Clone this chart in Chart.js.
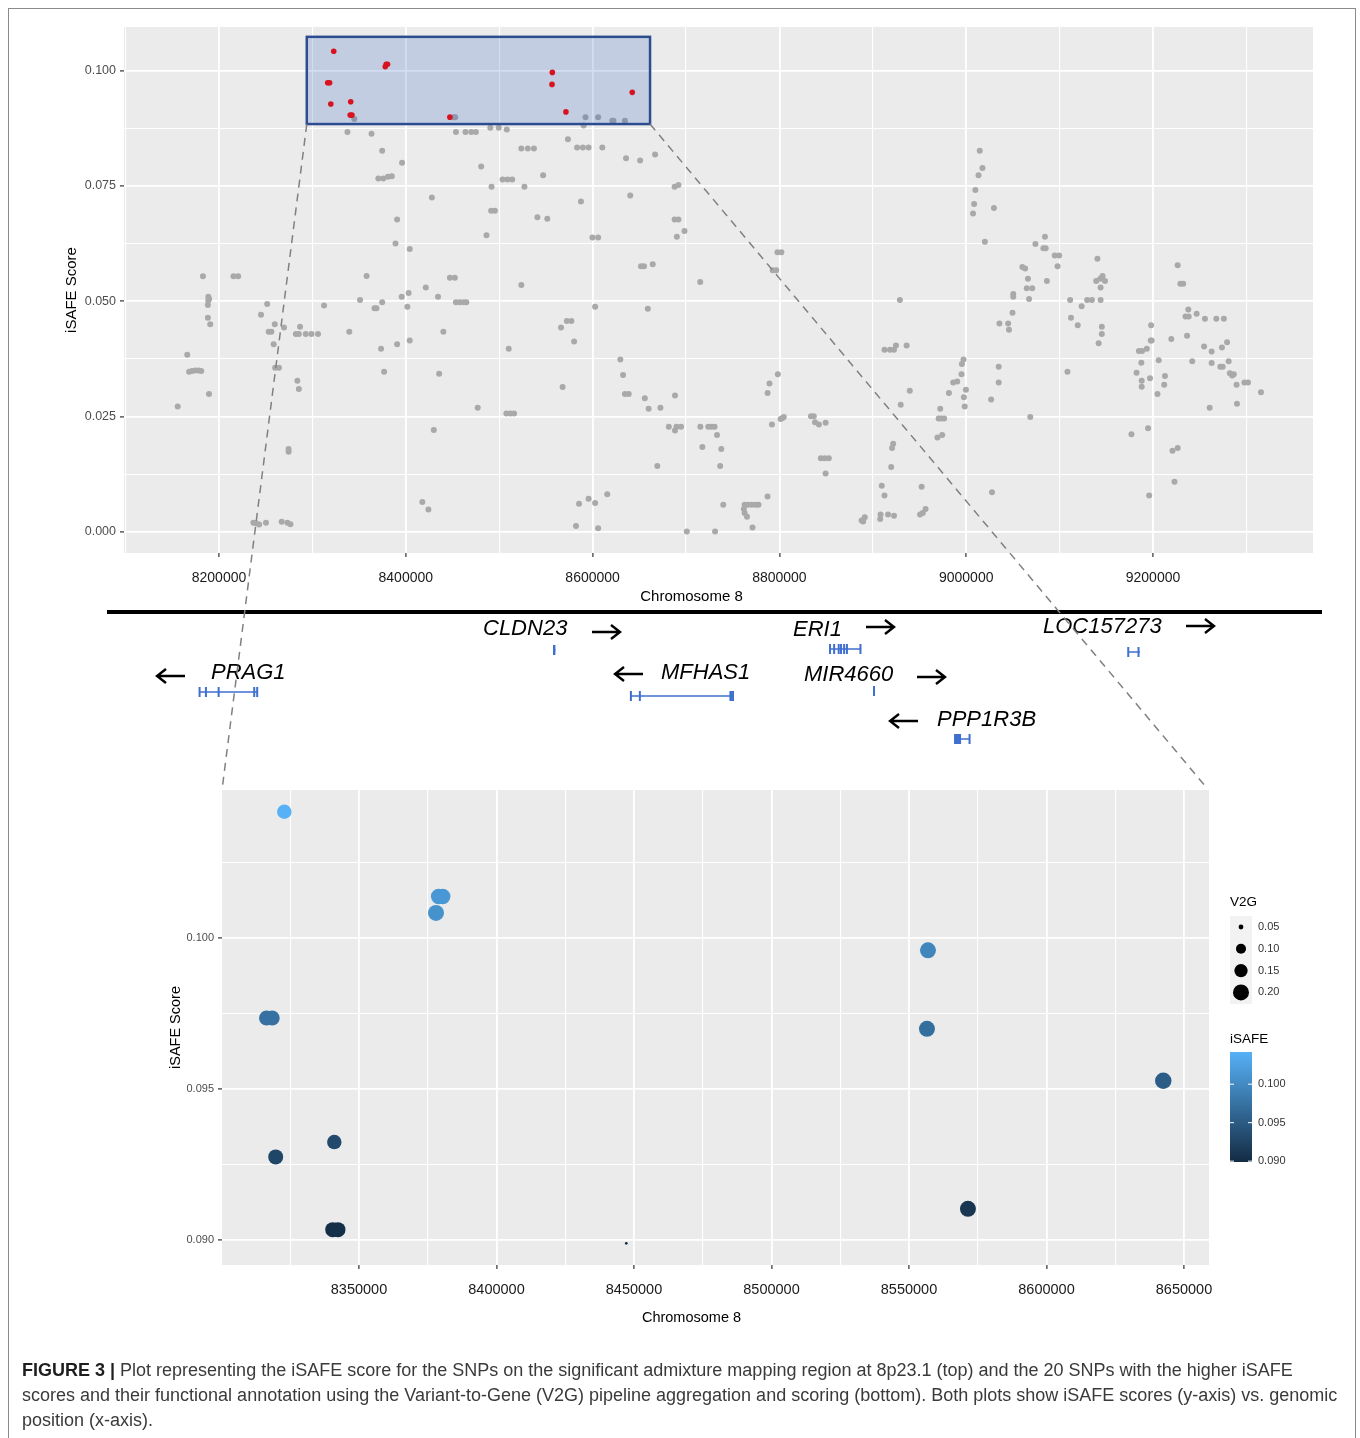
<!DOCTYPE html>
<html>
<head>
<meta charset="utf-8">
<title>iSAFE 8p23.1</title>
<script src="https://cdn.jsdelivr.net/npm/chart.js@4.4.0/dist/chart.umd.min.js"></script>
<style>
  html, body { margin: 0; padding: 0; background: #fff; }
  #page { position: relative; width: 1360px; height: 1438px; overflow: hidden; font-family: 'Liberation Sans', Arial, sans-serif; }
  #frame { position: absolute; left: 8px; top: 8px; width: 1348px; height: 1450px; border: 1px solid #8a8a8a; box-sizing: border-box; }
  #topChart { position: absolute; left: 0; top: 0; }
  #bottomChart { position: absolute; left: 0; top: 760px; }
  #overlay { position: absolute; left: 0; top: 0; pointer-events: none; }
  #caption { position: absolute; left: 22px; top: 1358px; font-size: 18px; line-height: 25px; color: #3a3a3a; white-space: nowrap; }
  #caption b { color: #1e1e1e; }
</style>
</head>
<body>
<div id="page">
  <div id="frame"></div>
  <canvas id="topChart" width="1360" height="760"></canvas>
  <canvas id="bottomChart" width="1360" height="580"></canvas>
  <canvas id="overlay" width="1360" height="1438"></canvas>
  <div id="caption">
    <div><b>FIGURE 3 |</b> Plot representing the iSAFE score for the SNPs on the significant admixture mapping region at 8p23.1 (top) and the 20 SNPs with the higher iSAFE</div>
    <div>scores and their functional annotation using the Variant-to-Gene (V2G) pipeline aggregation and scoring (bottom). Both plots show iSAFE scores (y-axis) vs. genomic</div>
    <div>position (x-axis).</div>
  </div>
</div>
<script>
// all SNPs of the region (grey, top panel)
const snpPos = [
  8344860, 8451250, 8452900, 8592400, 8605900, 8621100, 8622300, 8634600, 8590400, 8337500,
  8363300, 8453700, 8463900, 8470100, 8475000, 8490500, 8499500, 8508100, 8573600, 8523700,
  8530600, 8537200, 8583400, 8589600, 8595700, 8610400, 8374700, 8635800, 8650900, 8666900,
  8396000, 8480700, 8547000, 8370600, 8375900, 8380900, 8385000, 8503600, 8508900, 8513900,
  8491800, 8527000, 8687800, 8691900, 8427900, 8640300, 8587500, 8491400, 8495400, 8540900,
  8551500, 8390700, 8687800, 8691900, 8698400, 8486400, 8599800, 8605900, 8690200, 8389000,
  8404200, 8651800, 8655000, 8664400, 8715200, 8182800, 8215500, 8220500, 8358000, 8447200,
  8452500, 8421400, 8523700, 8188500, 8189400, 8351000, 8395600, 8403000, 8434500,
  8188500, 8188100, 8188100, 8190600, 8251600, 8245000, 8259700, 8253200, 8256100, 8269600,
  8286800, 8282300, 8285500, 8292900, 8299000, 8306000, 8258500, 8260100, 8264200, 8283900,
  8285500, 8166000, 8168000, 8171000, 8174500, 8178000, 8181000, 8189300, 8155800, 8312500,
  8366500, 8368600, 8374700, 8401700, 8339500, 8373500, 8390700, 8404200, 8376800, 8440200,
  8435700, 8453700, 8457800, 8461900, 8464800, 8274500, 8274500, 8236800, 8239700, 8243000,
  8250300, 8267100, 8273200, 8276500, 8510200, 8566200, 8572400, 8577300, 8580200, 8567900,
  8477000, 8507700, 8511800, 8515900, 8430000, 8417700, 8424200, 8582200, 8585500, 8595700,
  8602700, 8615700, 8605900, 8602700, 8659100, 8629700, 8632600, 8634600, 8638700, 8655900,
  8660000, 8672600, 8688200, 8681600, 8688200, 8689800, 8694700, 8669300, 8700900,
  8797900, 8802100, 8792800, 8796600, 9014500, 9017400, 9013200, 9009800, 9008500, 9007300,
  9029700, 9020000, 8929000, 9074100, 9084300, 9082600, 9085100, 9094800, 9099500, 9097800,
  9060100, 9063100, 9066100, 9064800, 9070700, 9067300, 9086400, 9050400, 9050400, 9140500,
  9139200, 9143500, 9146000, 9148600, 9143900, 9143900, 9111300, 9129500, 9134600, 9226400,
  9229300, 9232300,
  8715400, 8723900, 8727300, 8730600, 8717500, 8733200, 8737800, 8736600, 8731100, 8739900,
  8762800, 8766200, 8770400, 8774600, 8777600, 8761900, 8762800, 8765300, 8771200, 8787300,
  8789400, 8787300, 8798300, 8792000, 8801300, 8803400, 8804700, 8833800, 8836800, 8838100,
  8842300, 8849500, 8844400, 8848600, 8852900, 8849500, 8888000, 8891400, 8889700, 8907900,
  8908300, 8916300, 8922700, 8909600, 8912500, 8919700, 8920600, 8921800, 8912500, 8918400,
  8922700, 8924800, 8936200, 8939600, 8929900, 8952300, 8950600, 8953500, 8956500, 8969200,
  8974300, 8970500, 8973400, 8976400, 8972200, 8981500, 8986100, 8990400, 8995000, 8997500,
  8998400, 8999700, 8995400, 8997100, 9027600, 9026700, 9034800, 9034800, 9035600, 9044900,
  9045800, 9049600, 9068600, 9108400, 9112200, 9119400, 9123600, 9145200, 9145200, 9141800,
  9176900, 9194700, 9195900, 9220900, 9226400, 9223000, 9182400, 9184900, 9188300, 9187500,
  9193400, 9187900, 9187900, 9196800, 9197600, 9198500, 9198000, 9206100, 9204800, 9212800,
  9212000, 9219600, 9236500, 9234800, 9238200, 9237800, 9246700, 9255600, 9267800, 9275900,
  9242000, 9254700, 9262800, 9262800, 9272100, 9274600, 9273800, 9279300, 9281000, 9282300,
  9284800, 9286500, 9260700, 9289500, 9289900, 9297900, 9301700, 9315600
];
const snpScore = [
  0.0895, 0.0899, 0.0899, 0.0899, 0.0899, 0.0891, 0.0891, 0.0891, 0.0881, 0.0867,
  0.0863, 0.0867, 0.0867, 0.0867, 0.0867, 0.0876, 0.0876, 0.0872, 0.0851, 0.0831,
  0.0831, 0.0831, 0.0833, 0.0833, 0.0833, 0.0833, 0.0826, 0.0810, 0.0805, 0.0818,
  0.0800, 0.0792, 0.0773, 0.0766, 0.0766, 0.0770, 0.0771, 0.0764, 0.0764, 0.0764,
  0.0748, 0.0748, 0.0748, 0.0752, 0.0725, 0.0729, 0.0716, 0.0696, 0.0696, 0.0682,
  0.0679, 0.0677, 0.0677, 0.0677, 0.0652, 0.0643, 0.0638, 0.0638, 0.0640, 0.0625,
  0.0613, 0.0576, 0.0576, 0.0580, 0.0542, 0.0554, 0.0554, 0.0554, 0.0555, 0.0551,
  0.0551, 0.0530, 0.0535, 0.0510, 0.0505, 0.0503, 0.0510, 0.0518, 0.0510,
  0.0501, 0.0492, 0.0464, 0.0450, 0.0494, 0.0471, 0.0450, 0.0434, 0.0434, 0.0443,
  0.0445, 0.0429, 0.0429, 0.0429, 0.0429, 0.0429, 0.0407, 0.0356, 0.0356, 0.0328,
  0.0310, 0.0384, 0.0347, 0.0349, 0.0350, 0.0350, 0.0349, 0.0299, 0.0272, 0.0491,
  0.0485, 0.0485, 0.0498, 0.0488, 0.0434, 0.0397, 0.0407, 0.0415, 0.0347, 0.0434,
  0.0343, 0.0498, 0.0498, 0.0498, 0.0498, 0.0180, 0.0174, 0.0020, 0.0019, 0.0016,
  0.0020, 0.0022, 0.0020, 0.0017, 0.0397, 0.0443, 0.0457, 0.0457, 0.0413, 0.0314,
  0.0269, 0.0257, 0.0257, 0.0257, 0.0221, 0.0065, 0.0049, 0.0013, 0.0061, 0.0072,
  0.0063, 0.0082, 0.0008, 0.0488, 0.0484, 0.0374, 0.0340, 0.0299, 0.0299, 0.0290,
  0.0267, 0.0269, 0.0296, 0.0228, 0.0220, 0.0228, 0.0228, 0.0143, 0.0001,
  0.0606, 0.0606, 0.0567, 0.0567, 0.0826, 0.0789, 0.0773, 0.0741, 0.0711, 0.0690,
  0.0702, 0.0629, 0.0503, 0.0624, 0.0640, 0.0615, 0.0615, 0.0599, 0.0599, 0.0576,
  0.0574, 0.0571, 0.0549, 0.0528, 0.0528, 0.0505, 0.0544, 0.0516, 0.0510, 0.0592,
  0.0544, 0.0549, 0.0555, 0.0544, 0.0530, 0.0503, 0.0503, 0.0503, 0.0503, 0.0578,
  0.0538, 0.0538,
  0.0228, 0.0228, 0.0228, 0.0228, 0.0184, 0.0210, 0.0180, 0.0143, 0.0001, 0.0059,
  0.0059, 0.0059, 0.0059, 0.0059, 0.0059, 0.0050, 0.0041, 0.0033, 0.0010, 0.0077,
  0.0322, 0.0301, 0.0342, 0.0233, 0.0245, 0.0247, 0.0249, 0.0251, 0.0251, 0.0238,
  0.0233, 0.0237, 0.0160, 0.0160, 0.0160, 0.0127, 0.0025, 0.0032, 0.0023, 0.0028,
  0.0038, 0.0038, 0.0035, 0.0100, 0.0079, 0.0141, 0.0182, 0.0191, 0.0395, 0.0395,
  0.0395, 0.0404, 0.0404, 0.0306, 0.0276, 0.0098, 0.0038, 0.0041, 0.0050, 0.0205,
  0.0210, 0.0246, 0.0246, 0.0246, 0.0267, 0.0301, 0.0324, 0.0326, 0.0342, 0.0292,
  0.0272, 0.0308, 0.0364, 0.0374, 0.0086, 0.0287, 0.0358, 0.0324, 0.0452, 0.0452,
  0.0438, 0.0475, 0.0249, 0.0347, 0.0464, 0.0448, 0.0489, 0.0445, 0.0429, 0.0409,
  0.0212, 0.0225, 0.0079, 0.0176, 0.0182, 0.0109, 0.0345, 0.0392, 0.0392, 0.0367,
  0.0397, 0.0328, 0.0315, 0.0333, 0.0415, 0.0415, 0.0448, 0.0372, 0.0299, 0.0338,
  0.0319, 0.0418, 0.0425, 0.0467, 0.0467, 0.0482, 0.0473, 0.0462, 0.0462, 0.0462,
  0.0370, 0.0402, 0.0391, 0.0366, 0.0358, 0.0358, 0.0400, 0.0411, 0.0370, 0.0344,
  0.0339, 0.0342, 0.0269, 0.0319, 0.0278, 0.0324, 0.0324, 0.0303
];

// SNPs with the highest iSAFE (red on top, zoomed below)
const topSnpPos   = [8322840, 8378980, 8380430, 8378000, 8316370, 8318440, 8341020, 8319710, 8340440, 8342360, 8447200, 8556900, 8556530, 8642460, 8571430];
const topSnpScore = [0.10418, 0.10137, 0.10137, 0.10083, 0.09735, 0.09735, 0.09324, 0.09275, 0.09034, 0.09034, 0.08989, 0.09959, 0.09699, 0.09527, 0.09103];
const topSnpV2G   = [0.17, 0.19, 0.19, 0.20, 0.18, 0.18, 0.17, 0.18, 0.18, 0.18, 0.04, 0.20, 0.20, 0.21, 0.20];

// zoomed window drawn as the blue box
const zoomPos = [8294000, 8661500];
const zoomScore = [0.0884, 0.1073];

// ticks
const topXMajor = [8200000, 8400000, 8600000, 8800000, 9000000, 9200000];
const topXMinor = [8100000, 8300000, 8500000, 8700000, 8900000, 9100000, 9300000];
const topYMajor = [0, 0.025, 0.05, 0.075, 0.1];
const topYMinor = [0.0125, 0.0375, 0.0625, 0.0875];
const botXMajor = [8350000, 8400000, 8450000, 8500000, 8550000, 8600000, 8650000];
const botXMinor = [8325000, 8375000, 8425000, 8475000, 8525000, 8575000, 8625000];
const botYMajor = [0.090, 0.095, 0.100];
const botYMinor = [0.0925, 0.0975, 0.1025];

// legend keys
const v2gKeys = [0.05, 0.10, 0.15, 0.20];
const isafeKeys = [0.090, 0.095, 0.100];

// genes (hg19, chr8)
const geneNames  = ['PRAG1', 'CLDN23', 'MFHAS1', 'ERI1', 'MIR4660', 'PPP1R3B', 'LOC157273'];
const geneStart  = [8179200, 8557600, 8641000, 8854200, 8901300, 8987000, 9173500];
const geneEnd    = [8240900, 8560200, 8751400, 8887500, 8901300, 9003600, 9186000];
const geneStrand = [-1, 1, -1, 1, 1, -1, 1];
const geneExons  = [
  [[8179200, 8179200], [8186000, 8186000], [8199600, 8199600], [8237700, 8237700], [8240900, 8240900]],
  [[8557600, 8560200]],
  [[8641000, 8641000], [8650600, 8650600], [8746500, 8751400]],
  [[8854200, 8856000], [8858600, 8859600], [8863500, 8864500], [8866000, 8867000], [8869300, 8870000], [8872300, 8873000], [8886800, 8887500]],
  [[8901300, 8901300]],
  [[8987000, 8994500], [9003600, 9003600]],
  [[9173500, 9175000], [9184500, 9186000]]
];

// where labels / arrows / tracks sit on the page
const geneLayout = [
  { labelX: 211, labelY: 673, arrowX: 157, arrowY: 676, trackY: 692 },
  { labelX: 483, labelY: 629, arrowX: 592, arrowY: 632, trackY: 650 },
  { labelX: 661, labelY: 673, arrowX: 615, arrowY: 674, trackY: 696 },
  { labelX: 793, labelY: 630, arrowX: 866, arrowY: 627, trackY: 649 },
  { labelX: 804, labelY: 675, arrowX: 917, arrowY: 677, trackY: 691 },
  { labelX: 937, labelY: 720, arrowX: 890, arrowY: 721, trackY: 739 },
  { labelX: 1043, labelY: 627, arrowX: 1186, arrowY: 626, trackY: 652 }
];

const FONT = "'Liberation Sans', Arial, sans-serif";
const PANEL_BG = '#ebebeb';
const GENE_BLUE = '#3f6fcf';
const LOW = [19, 43, 67], HIGH = [86, 177, 247];   // #132B43 -> #56B1F7

Chart.defaults.font.family = FONT;
Chart.defaults.animation = false;

const isafeMin = Math.min(...topSnpScore);
const isafeMax = Math.max(...topSnpScore);

function isafeColor(v) {
  const t = Math.max(0, Math.min(1, (v - isafeMin) / (isafeMax - isafeMin)));
  const c = LOW.map((l, i) => Math.round(l + t * (HIGH[i] - l)));
  return `rgb(${c[0]},${c[1]},${c[2]})`;
}
function v2gRadius(v) {
  return Math.sqrt(Math.max(0.5, -13.65 + 388.3 * v));
}

const panelBg = {
  id: 'panelBg',
  beforeDraw(chart) {
    const { ctx, chartArea: a } = chart;
    ctx.save();
    ctx.fillStyle = PANEL_BG;
    ctx.fillRect(a.left, a.top, a.right - a.left, a.bottom - a.top);
    ctx.restore();
  }
};

const axisTitles = {
  id: 'axisTitles',
  afterDraw(chart, args, opts) {
    const { ctx, chartArea: a } = chart;
    ctx.save();
    ctx.fillStyle = '#000';
    ctx.font = opts.size + 'px ' + FONT;
    ctx.textAlign = 'center';
    ctx.textBaseline = 'middle';
    ctx.fillText(opts.x, (a.left + a.right) / 2 + opts.xShift, a.bottom + opts.xDrop);
    ctx.translate(a.left - opts.yGap, (a.top + a.bottom) / 2);
    ctx.rotate(-Math.PI / 2);
    ctx.fillText(opts.y, 0, 0);
    ctx.restore();
  }
};

const zoomBox = {
  id: 'zoomBox',
  afterDatasetDraw(chart, args) {
    if (args.index !== 0) return;
    const { ctx, scales: { x, y } } = chart;
    const x0 = x.getPixelForValue(zoomPos[0]), x1 = x.getPixelForValue(zoomPos[1]);
    const y0 = y.getPixelForValue(zoomScore[1]), y1 = y.getPixelForValue(zoomScore[0]);
    ctx.save();
    ctx.fillStyle = 'rgba(30,85,185,0.2)';
    ctx.fillRect(x0, y0, x1 - x0, y1 - y0);
    ctx.strokeStyle = '#2b4c8f';
    ctx.lineWidth = 2.5;
    ctx.strokeRect(x0, y0, x1 - x0, y1 - y0);
    ctx.restore();
  }
};

function drawArrow(ctx, x, y, strand) {
  const len = 28;
  ctx.beginPath();
  ctx.moveTo(x, y);
  ctx.lineTo(x + len, y);
  if (strand > 0) {
    ctx.moveTo(x + len - 9, y - 7); ctx.lineTo(x + len, y); ctx.lineTo(x + len - 9, y + 7);
  } else {
    ctx.moveTo(x + 9, y - 7); ctx.lineTo(x, y); ctx.lineTo(x + 9, y + 7);
  }
  ctx.stroke();
}

const geneTrack = {
  id: 'geneTrack',
  afterDraw(chart) {
    const { ctx, scales: { x } } = chart;
    ctx.save();
    ctx.fillStyle = '#000';
    ctx.fillRect(107, 610, 1215, 4);
    geneNames.forEach((name, i) => {
      const L = geneLayout[i];
      const x0 = x.getPixelForValue(geneStart[i]);
      const x1 = x.getPixelForValue(geneEnd[i]);
      ctx.strokeStyle = GENE_BLUE;
      ctx.fillStyle = GENE_BLUE;
      ctx.lineWidth = 1.5;
      ctx.beginPath();
      ctx.moveTo(x0, L.trackY);
      ctx.lineTo(x1, L.trackY);
      ctx.stroke();
      geneExons[i].forEach(([s, e]) => {
        const p0 = x.getPixelForValue(s), p1 = x.getPixelForValue(e);
        const w = Math.max(2, p1 - p0);
        const left = p1 - p0 < 2 ? p0 - 1 : p0;
        ctx.fillRect(left, L.trackY - 5, w, 10);
      });
      ctx.fillStyle = '#000';
      ctx.font = 'italic 22px ' + FONT;
      ctx.textAlign = 'left';
      ctx.textBaseline = 'middle';
      ctx.fillText(name, L.labelX, L.labelY);
      ctx.strokeStyle = '#000';
      ctx.lineWidth = 2.4;
      drawArrow(ctx, L.arrowX, L.arrowY, geneStrand[i]);
    });
    ctx.restore();
  }
};

const sizeColourLegend = {
  id: 'sizeColourLegend',
  afterDraw(chart) {
    const { ctx, chartArea: a } = chart;
    const lx = a.right + 21;
    ctx.save();
    ctx.fillStyle = '#000';
    ctx.font = '13.5px ' + FONT;
    ctx.textBaseline = 'middle';
    ctx.fillText('V2G', lx, 142);
    ctx.fillStyle = '#f2f2f2';
    ctx.fillRect(lx, 156, 22, 88);
    ctx.font = '11px ' + FONT;
    v2gKeys.forEach((k, i) => {
      const cy = 167 + i * 21.8;
      ctx.fillStyle = '#000';
      ctx.beginPath();
      ctx.arc(lx + 11, cy, v2gRadius(k), 0, Math.PI * 2);
      ctx.fill();
      ctx.fillStyle = '#333';
      ctx.fillText(k.toFixed(2), lx + 28, cy);
    });

    ctx.fillStyle = '#000';
    ctx.font = '13.5px ' + FONT;
    ctx.fillText('iSAFE', lx, 279);
    const top = 292, h = 110, w = 22;
    const g = ctx.createLinearGradient(0, top + h, 0, top);
    g.addColorStop(0, isafeColor(isafeMin));
    g.addColorStop(0.5, isafeColor((isafeMin + isafeMax) / 2));
    g.addColorStop(1, isafeColor(isafeMax));
    ctx.fillStyle = g;
    ctx.fillRect(lx, top, w, h);
    ctx.font = '11px ' + FONT;
    isafeKeys.forEach(k => {
      const ty = top + h - (k - isafeMin) / (isafeMax - isafeMin) * h;
      ctx.strokeStyle = '#fff';
      ctx.lineWidth = 1;
      ctx.beginPath();
      ctx.moveTo(lx, ty); ctx.lineTo(lx + 4, ty);
      ctx.moveTo(lx + w - 4, ty); ctx.lineTo(lx + w, ty);
      ctx.stroke();
      ctx.fillStyle = '#333';
      ctx.fillText(k.toFixed(3), lx + 28, ty);
    });
    ctx.restore();
  }
};

function ggScale(major, minor, min, max, fixedSize, horizontal, fontSize, labelColor, fmt, pad) {
  const ticks = major.concat(minor).sort((a, b) => a - b);
  return {
    type: 'linear',
    min: min,
    max: max,
    afterBuildTicks: s => { s.ticks = ticks.map(v => ({ value: v })); },
    afterFit: s => { if (horizontal) s.height = fixedSize; else s.width = fixedSize; },
    ticks: {
      autoSkip: false,
      maxRotation: 0,
      padding: pad,
      color: labelColor,
      font: { size: fontSize },
      callback: v => major.includes(v) ? fmt(v) : ''
    },
    grid: {
      color: '#ffffff',
      lineWidth: c => major.includes(c.tick.value) ? 1.8 : 1.1,
      drawTicks: true,
      tickLength: 4,
      tickWidth: 1.2,
      tickColor: c => major.includes(c.tick.value) ? '#333333' : 'rgba(0,0,0,0)'
    },
    border: { display: false }
  };
}

const topChart = new Chart(document.getElementById('topChart'), {
  type: 'scatter',
  data: {
    datasets: [
      {
        label: 'SNPs',
        data: snpPos.map((p, i) => ({ x: p, y: snpScore[i] })),
        backgroundColor: '#a9a9a9',
        pointRadius: 3,
        pointBorderWidth: 0,
        order: 2
      },
      {
        label: 'Top iSAFE',
        data: topSnpPos.map((p, i) => ({ x: p, y: topSnpScore[i] })),
        backgroundColor: '#d81320',
        pointRadius: 2.8,
        pointBorderWidth: 0,
        order: 1
      }
    ]
  },
  options: {
    responsive: false,
    devicePixelRatio: 1,
    events: [],
    layout: { padding: { left: 0, right: 47, top: 27, bottom: 155 } },
    scales: {
      x: ggScale(topXMajor, topXMinor, 8098287, 9371306, 52, true, 14, '#1a1a1a', v => String(v), 13),
      y: ggScale(topYMajor, topYMinor, -0.00455, 0.10943, 124, false, 12.5, '#4d4d4d', v => v.toFixed(3), 4)
    },
    plugins: {
      legend: { display: false },
      tooltip: { enabled: false },
      axisTitles: { x: 'Chromosome 8', y: 'iSAFE Score', size: 15, xShift: -27, xDrop: 44, yGap: 52 }
    }
  },
  plugins: [panelBg, zoomBox, geneTrack, axisTitles]
});

const bottomChart = new Chart(document.getElementById('bottomChart'), {
  type: 'scatter',
  data: {
    datasets: [{
      label: 'Top iSAFE',
      data: topSnpPos.map((p, i) => ({ x: p, y: topSnpScore[i] })),
      pointBackgroundColor: topSnpScore.map(isafeColor),
      pointRadius: topSnpV2G.map(v2gRadius),
      pointBorderWidth: 0
    }]
  },
  options: {
    responsive: false,
    devicePixelRatio: 1,
    events: [],
    layout: { padding: { left: 0, right: 151, top: 30, bottom: 35 } },
    scales: {
      x: ggScale(botXMajor, botXMinor, 8300182, 8659091, 40, true, 14.5, '#1a1a1a', v => String(v), 12),
      y: ggScale(botYMajor, botYMinor, 0.08917, 0.10490, 222, false, 11, '#4d4d4d', v => v.toFixed(3), 4)
    },
    plugins: {
      legend: { display: false },
      tooltip: { enabled: false },
      axisTitles: { x: 'Chromosome 8', y: 'iSAFE Score', size: 14.5, xShift: -24, xDrop: 53, yGap: 46 }
    }
  },
  plugins: [panelBg, axisTitles, sizeColourLegend]
});

// dashed lines linking the blue box to the zoomed panel
(function drawZoomLines() {
  const c = document.getElementById('overlay').getContext('2d');
  const tx = topChart.scales.x, ty = topChart.scales.y;
  const a = bottomChart.chartArea;
  const off = 760;
  const yb = ty.getPixelForValue(zoomScore[0]);
  c.save();
  c.setLineDash([8, 6]);
  c.strokeStyle = '#808080';
  c.lineWidth = 1.5;
  c.beginPath();
  c.moveTo(tx.getPixelForValue(zoomPos[0]), yb);
  c.lineTo(a.left, a.top + off);
  c.moveTo(tx.getPixelForValue(zoomPos[1]), yb);
  c.lineTo(a.right - 3, a.top + off - 3);
  c.stroke();
  c.restore();
})();
</script>
</body>
</html>
